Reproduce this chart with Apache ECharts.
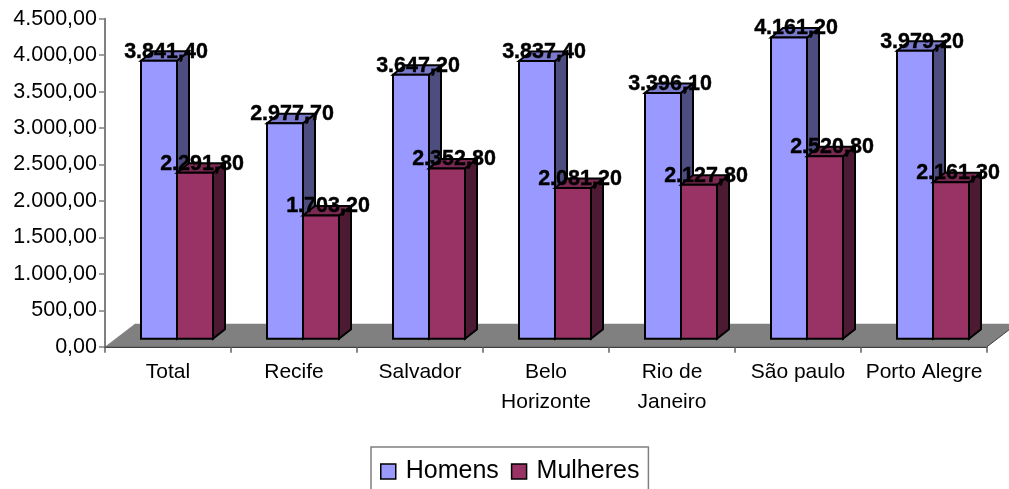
<!DOCTYPE html>
<html>
<head>
<meta charset="utf-8">
<style>html,body{margin:0;padding:0;background:#fff;overflow:hidden}#c{width:1009px;height:489px}</style>
<script src="https://cdn.jsdelivr.net/npm/echarts@6/dist/echarts.min.js"></script>
</head>
<body>
<div id="c"></div>
<script>
const categories = ['Total', 'Recife', 'Salvador', 'Belo\nHorizonte', 'Rio de\nJaneiro', 'São paulo', 'Porto Alegre'];
const homens = [3841.4, 2977.7, 3647.2, 3837.4, 3396.1, 4161.2, 3979.2];
const mulheres = [2291.8, 1703.2, 2352.8, 2081.2, 2127.8, 2520.8, 2161.3];
const yTicks = ['0,00', '500,00', '1.000,00', '1.500,00', '2.000,00', '2.500,00', '3.000,00', '3.500,00', '4.000,00', '4.500,00'];

const FONT = '"Liberation Sans", Arial, sans-serif';
const fmt = v => {
  const [a, b] = v.toFixed(2).split('.');
  return a.replace(/\B(?=(\d{3})+$)/g, '.') + ',' + b;
};
const DX = 12, DY = 9.5, BASE = 8, BAR = 36 / 126, PERSPECTIVE = 0.993;

function barSeries(name, data, offsetBars, colors) {
  return {
    name, type: 'custom', data: data.map((v, i) => [i, v]), z: 5 + offsetBars,
    itemStyle: { color: colors[0] },
    encode: { x: 0, y: 1 },
    renderItem(params, api) {
      const p = api.coord([api.value(0), api.value(1)]);
      const w = api.size([1, 0])[0] * BAR;
      const zero = api.coord([api.value(0), 0])[1];
      const base = zero - BASE;
      const x = p[0] - 0.75 * w + offsetBars * w;
      const top = base - (zero - p[1]) * PERSPECTIVE;
      const line = { stroke: '#000', lineWidth: 2, lineJoin: 'miter' };
      return {
        type: 'group', children: [
          { type: 'polygon', shape: { points: [[x + w, top], [x + w + DX, top - DY], [x + w + DX, base - DY], [x + w, base]] },
            style: { fill: colors[2], ...line } },
          { type: 'polygon', shape: { points: [[x, top], [x + DX, top - DY], [x + w + DX, top - DY], [x + w, top]] },
            style: { fill: colors[1], ...line } },
          { type: 'rect', shape: { x, y: top, width: w, height: base - top },
            style: { fill: colors[0], ...line } },
          { type: 'text', x: x + 25, y: top - 9, z2: 20,
            style: { text: fmt(api.value(1)), font: 'bold 21.5px ' + FONT, fill: '#000', stroke: '#000', lineWidth: 0.4, align: 'center', verticalAlign: 'middle' } }
        ]
      };
    }
  };
}

const chart = echarts.init(document.getElementById('c'), null, { renderer: 'canvas' });
chart.setOption({
  animation: false,
  backgroundColor: '#fff',
  grid: { left: 105, right: 22, top: 18.7, bottom: 142.3 },
  xAxis: {
    type: 'category', data: categories,
    axisLine: { lineStyle: { color: '#404040', width: 2 } },
    axisTick: { show: true, length: 6, lineStyle: { color: '#606060', width: 1.5 } },
    axisLabel: { interval: 0, margin: 11, color: '#000', fontFamily: FONT, fontSize: 21, lineHeight: 30 }
  },
  yAxis: {
    type: 'value', min: 0, max: 4500, interval: 500,
    splitLine: { show: false },
    axisLine: { show: true, lineStyle: { color: '#808080', width: 2 } },
    axisTick: { show: true, length: 6, lineStyle: { color: '#808080', width: 1.5 } },
    axisLabel: { margin: 8, color: '#000', fontFamily: FONT, fontSize: 21.5,
      formatter: v => yTicks[v / 500] }
  },
  legend: {
    left: 371, top: 447, orient: 'horizontal',
    data: ['Homens', 'Mulheres'],
    backgroundColor: '#fff', borderColor: '#808080', borderWidth: 1.5,
    padding: [12, 9, 12, 9], itemWidth: 15, itemHeight: 15, itemGap: 12,
    icon: 'rect',
    itemStyle: { borderColor: '#000', borderWidth: 1.5 },
    textStyle: { color: '#000', fontFamily: FONT, fontSize: 25, padding: [0, 0, 0, 5] }
  },
  series: [
    {
      type: 'custom', z: 1, data: [[0, 0]], silent: true,
      renderItem(params, api) {
        const c = params.coordSys;
        const y = c.y + c.height, xl = c.x, xr = c.x + c.width;
        return {
          type: 'group', children: [
            { type: 'polygon', shape: { points: [[xl, y], [xl + 30, y - 23], [xr + 30, y - 23], [xr, y]] },
              style: { fill: '#808080', stroke: null } },
            { type: 'line', shape: { x1: xr, y1: y, x2: xr + 30, y2: y - 23 },
              style: { stroke: '#404040', lineWidth: 1 } }
          ]
        };
      }
    },
    barSeries('Homens', homens, 0, ['#9999FF', '#7A7ACC', '#4D4D80']),
    barSeries('Mulheres', mulheres, 1, ['#993366', '#7A2952', '#4D1A33'])
  ]
});
</script>
</body>
</html>
